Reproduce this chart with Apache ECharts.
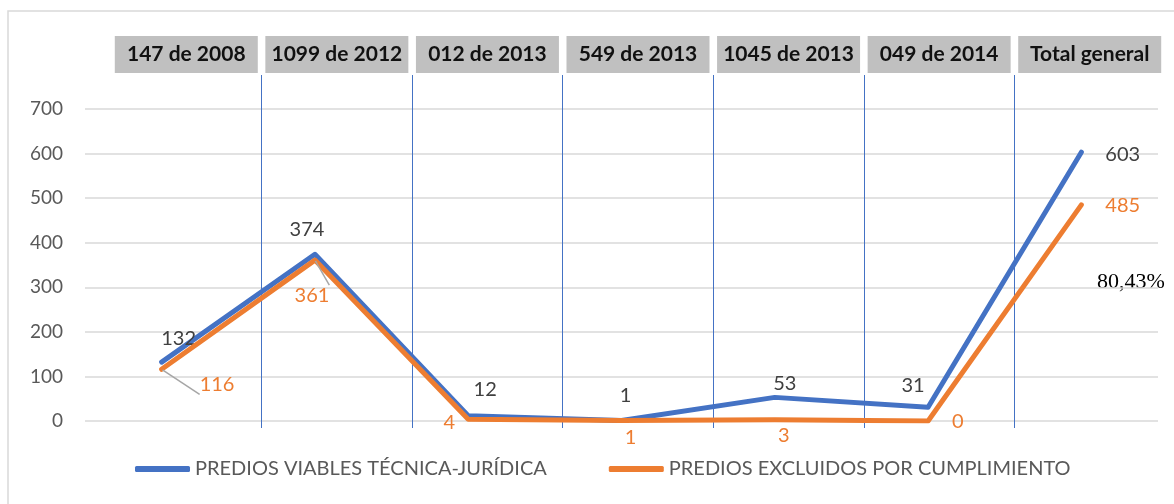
<!DOCTYPE html>
<html>
<head>
<meta charset="utf-8">
<script src="https://cdn.jsdelivr.net/npm/echarts@6/dist/echarts.min.js"></script>
<style>
  html, body { margin: 0; padding: 0; background: #fff; }
  #chart { width: 1174px; height: 504px; }
</style>
</head>
<body>
<div id="chart"></div>
<script>
const categorias = ['147 de 2008', '1099 de 2012', '012 de 2013', '549 de 2013', '1045 de 2013', '049 de 2014', 'Total general'];
const viables = [132, 374, 12, 1, 53, 31, 603];
const excluidos = [116, 361, 4, 1, 3, 0, 485];
const yTicks = [0, 100, 200, 300, 400, 500, 600, 700];
const nombreViables = 'PREDIOS VIABLES TÉCNICA-JURÍDICA';
const nombreExcluidos = 'PREDIOS EXCLUIDOS POR CUMPLIMIENTO';
const porcentaje = '80,43%';

const AZUL = '#4472C4';
const NARANJA = '#ED7D31';
const FUENTE = 'Lato, "Open Sans", sans-serif';

// colocacion de etiquetas (solo estilo)
const posViables = [['top', 17, -8], ['top', -8, -9], ['top', 17, -10], ['top', 4, -9], ['top', 10, 2], ['top', -15, -6], ['right', 18, 2]];
const posExcluidos = [['right', 32, 15], ['bottom', -3, 19], ['left', -7, 3], ['bottom', 9, 1], ['bottom', 9, 0], ['right', 18, 1], ['right', 18, 1]];

function armarDatos(valores, pos, guias) {
    return valores.map((v, i) => ({
        value: v,
        label: { position: pos[i][0], offset: [pos[i][1], pos[i][2]] },
        labelLine: { show: guias.includes(i) }
    }));
}

const chart = echarts.init(document.getElementById('chart'));

chart.setOption({
    animation: false,
    grid: [
        { left: 85, right: 16, top: 109, bottom: 83 },
        { left: 111, right: 9, top: 75, bottom: 76 }
    ],
    xAxis: [
        {
            type: 'category',
            gridIndex: 0,
            data: categorias,
            axisLine: { show: false },
            axisTick: { show: false },
            axisLabel: { show: false }
        },
        {
            type: 'category',
            gridIndex: 1,
            position: 'top',
            data: categorias,
            axisLine: { show: false },
            axisTick: { show: false },
            splitLine: { show: true, showMinLine: false, showMaxLine: false, lineStyle: { color: AZUL, width: 1 } },
            axisLabel: {
                margin: 2,
                interval: 0,
                fontFamily: FUENTE,
                fontWeight: 'bold',
                fontSize: 21,
                color: '#111',
                backgroundColor: '#c0c0c0',
                width: 143,
                height: 37,
                lineHeight: 37,
                align: 'center',
                verticalAlign: 'bottom'
            }
        }
    ],
    yAxis: [
        {
            type: 'value',
            gridIndex: 0,
            min: 0,
            max: 700,
            interval: 100,
            axisLine: { show: false },
            axisTick: { show: false },
            axisLabel: {
                margin: 22,
                fontFamily: FUENTE,
                fontSize: 19,
                color: '#595959',
                formatter: v => yTicks.includes(v) ? String(v) : ''
            },
            splitLine: { lineStyle: { color: '#d9d9d9', width: 1.5 } }
        },
        {
            type: 'value',
            gridIndex: 1,
            show: false
        }
    ],
    legend: {
        bottom: 20,
        left: 130,
        itemWidth: 55,
        itemHeight: 6,
        itemGap: 62,
        icon: 'roundRect',
        textStyle: { fontFamily: FUENTE, fontSize: 20, color: '#595959' },
        data: [nombreViables, nombreExcluidos]
    },
    series: [
        {
            name: nombreViables,
            type: 'line',
            xAxisIndex: 0,
            yAxisIndex: 0,
            data: armarDatos(viables, posViables, []),
            symbol: 'circle',
            symbolSize: 2,
            itemStyle: { color: AZUL },
            lineStyle: { color: AZUL, width: 5, cap: 'round', join: 'round' },
            label: { show: true, fontFamily: FUENTE, fontSize: 20, color: '#404040', distance: 5 },
            z: 3
        },
        {
            name: nombreExcluidos,
            type: 'line',
            xAxisIndex: 0,
            yAxisIndex: 0,
            data: armarDatos(excluidos, posExcluidos, [0, 1]),
            symbol: 'circle',
            symbolSize: 2,
            itemStyle: { color: NARANJA },
            lineStyle: { color: NARANJA, width: 5, cap: 'round', join: 'round' },
            label: { show: true, fontFamily: FUENTE, fontSize: 20, color: NARANJA, distance: 5 },
            labelLine: { lineStyle: { color: '#a6a6a6', width: 1.5 } },
            z: 4
        }
    ],
    graphic: [
        {
            type: 'rect',
            shape: { x: 8, y: 11, width: 1200, height: 600 },
            style: { fill: 'none', stroke: '#d9d9d9', lineWidth: 1.5 },
            silent: true,
            z: -10
        },
        {
            type: 'text',
            left: 1097,
            top: 271,
            style: { text: porcentaje, font: '22px "Liberation Serif", serif', fill: '#000' }
        }
    ]
});
</script>
</body>
</html>
